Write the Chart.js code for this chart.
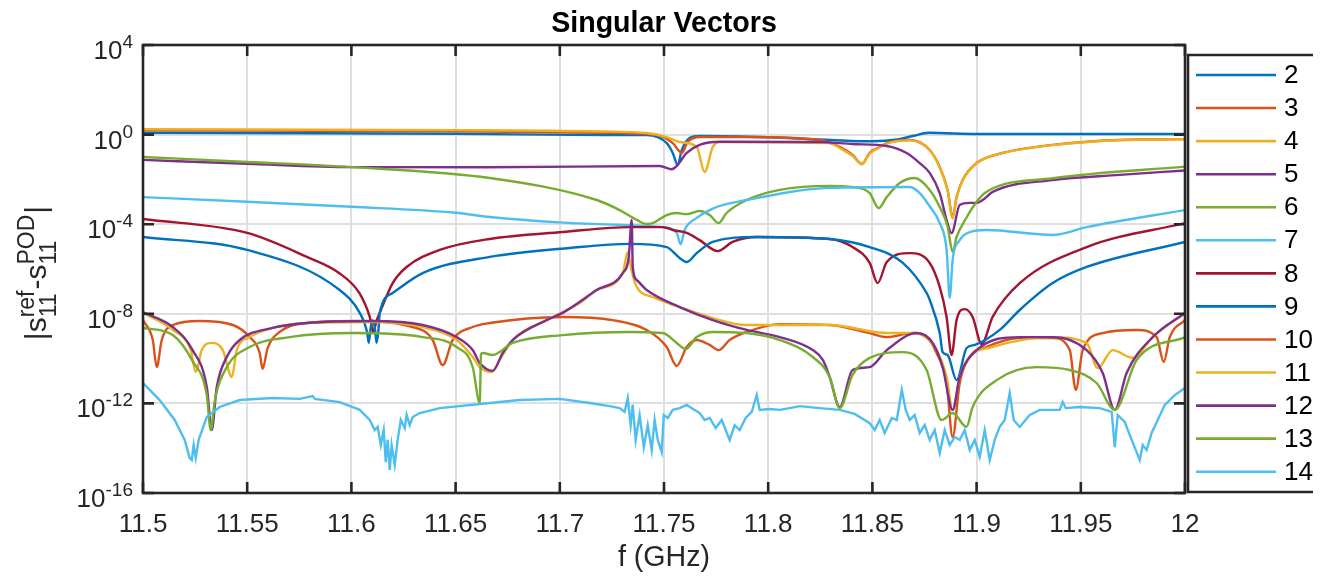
<!DOCTYPE html>
<html lang="en">
  <head>
    <meta charset="UTF-8" />
    <title>Singular Vectors</title>
    <style>
      body {
        margin: 0;
        background: #fff;
      }
      #wrap {
        position: relative;
        width: 1330px;
        height: 582px;
      }
    </style>
  </head>
  <body>
    <div id="wrap">
      <canvas id="svChart" width="1330" height="582"></canvas>
    </div>

    <script src="https://cdn.jsdelivr.net/npm/chart.js"></script>
    <script>
      // each series: [f in GHz, log10 |s11ref - s11POD|]
      const sv2 = [[11.5,0.08],[11.65,0.04],[11.72,-0.02],[11.7417,-0.02],[11.7513,-0.38],[11.7542,-0.82],[11.7566,-1.36],[11.7585,-0.69],[11.7623,-0.15],[11.7671,-0.06],[11.8,-0.12],[11.83,-0.24],[11.85,-0.3],[11.862,-0.22],[11.87,-0.05],[11.877,0.08],[11.885,0.06],[11.9,0.03],[12,0.03]];
      const sv3 = [[11.5,0.19],[11.65,0.15],[11.72,0.08],[11.7465,-0.02],[11.7542,-0.38],[11.7585,-0.82],[11.7614,-0.33],[11.7671,-0.11],[11.7897,-0.11],[11.8247,-0.24],[11.8343,-0.55],[11.8405,-0.91],[11.8449,-1.31],[11.8487,-0.82],[11.8535,-0.55],[11.8569,-0.38],[11.8679,-0.24],[11.8775,-0.69],[11.8823,-1.45],[11.8861,-2.47],[11.8885,-3.68],[11.8904,-2.79],[11.8933,-2.03],[11.9,-1.27],[11.9125,-0.82],[11.9365,-0.46],[11.968,-0.24],[12,-0.2]];
      const sv4 = [[11.5,0.24],[11.65,0.2],[11.72,0.14],[11.7417,0.07],[11.7513,-0.11],[11.7575,-0.33],[11.7657,-0.55],[11.7695,-1.67],[11.7734,-0.55],[11.7767,-0.33],[11.8295,-0.38],[11.8343,-0.6],[11.8405,-0.95],[11.8449,-1.33],[11.8487,-0.85],[11.8535,-0.57],[11.8569,-0.4],[11.8679,-0.26],[11.8775,-0.7],[11.8823,-1.47],[11.8861,-2.5],[11.8885,-3.75],[11.8904,-2.8],[11.8933,-2.05],[11.9,-1.28],[11.9125,-0.83],[11.9365,-0.47],[11.968,-0.25],[12,-0.21]];
      const sv5 = [[11.5,-1.13],[11.55,-1.3],[11.6,-1.45],[11.666,-1.46],[11.748,-1.4],[11.7537,-1.55],[11.7561,-1.4],[11.7609,-0.82],[11.7671,-0.46],[11.7767,-0.32],[11.8247,-0.33],[11.8405,-0.42],[11.8569,-0.51],[11.8664,-0.82],[11.8727,-1.27],[11.8775,-1.71],[11.8823,-2.61],[11.8856,-3.81],[11.888,-4.4],[11.8919,-3.14],[11.8967,-3.05],[11.9,-3.05],[11.9029,-2.92],[11.9077,-2.56],[11.9365,-2.03],[11.9687,-1.8],[12,-1.6]];
      const sv6 = [[11.5,-1.0],[11.55,-1.22],[11.6,-1.45],[11.6664,-1.94],[11.7177,-2.92],[11.7287,-3.37],[11.7369,-3.81],[11.7417,-3.99],[11.7446,-3.95],[11.7513,-3.59],[11.7561,-3.5],[11.7609,-3.55],[11.7671,-3.41],[11.7719,-3.59],[11.7762,-3.95],[11.78,-3.5],[11.7897,-2.92],[11.8055,-2.47],[11.8295,-2.29],[11.8405,-2.34],[11.8487,-2.61],[11.853,-3.28],[11.8569,-2.79],[11.8631,-2.16],[11.8703,-1.94],[11.8775,-2.47],[11.8823,-3.23],[11.8861,-4.1],[11.8885,-5.24],[11.8904,-4.57],[11.8952,-3.7],[11.9,-3.0],[11.9048,-2.55],[11.9365,-1.95],[12,-1.43]];
      const sv7 = [[11.5,-2.79],[11.55,-3.0],[11.6,-3.22],[11.65,-3.49],[11.6664,-3.68],[11.7,-3.92],[11.7254,-4.02],[11.7494,-4.13],[11.7561,-4.39],[11.758,-4.9],[11.7599,-4.26],[11.7657,-3.72],[11.7734,-3.3],[11.7897,-2.92],[11.8295,-2.38],[11.8679,-2.34],[11.8727,-2.61],[11.8775,-3.2],[11.8823,-3.95],[11.8856,-5.15],[11.8871,-7.29],[11.8885,-5.6],[11.8919,-4.71],[11.8967,-4.35],[11.9048,-4.26],[11.9365,-4.48],[11.9528,-4.13],[12,-3.37]];
      const sv8 = [[11.5,-3.77],[11.55,-4.39],[11.5786,-5.46],[11.5944,-6.2],[11.604,-7.1],[11.6088,-8.14],[11.6105,-8.81],[11.6121,-8.3],[11.6136,-7.96],[11.6198,-6.63],[11.6265,-5.91],[11.6424,-5.15],[11.6664,-4.66],[11.7014,-4.35],[11.7336,-4.13],[11.7494,-4.13],[11.7542,-4.26],[11.7609,-4.39],[11.7671,-4.71],[11.7758,-5.2],[11.7829,-4.79],[11.7945,-4.57],[11.8295,-4.66],[11.8405,-5.02],[11.8487,-5.73],[11.8525,-6.63],[11.8569,-5.69],[11.8679,-5.29],[11.8775,-5.73],[11.8823,-6.8],[11.8856,-8.14],[11.888,-9.84],[11.8904,-8.28],[11.8943,-7.79],[11.8981,-8.14],[11.9024,-9.35],[11.9077,-8.14],[11.9207,-6.63],[11.9528,-5.02],[12,-3.95]];
      const sv9 = [[11.5,-4.57],[11.55,-5.15],[11.5944,-6.94],[11.604,-7.96],[11.6075,-8.8],[11.6083,-9.3],[11.6093,-8.6],[11.6102,-8.3],[11.6112,-8.6],[11.6121,-9.3],[11.613,-8.7],[11.6136,-7.96],[11.6198,-7.07],[11.6342,-6.18],[11.6664,-5.46],[11.7048,-5.06],[11.7336,-4.88],[11.7513,-5.02],[11.7575,-5.51],[11.7609,-5.69],[11.7657,-5.29],[11.7734,-4.79],[11.7945,-4.57],[11.8295,-4.66],[11.8487,-5.02],[11.8646,-5.73],[11.876,-7.07],[11.8775,-7.38],[11.8823,-8.86],[11.8837,-9.71],[11.8861,-9.84],[11.8904,-10.96],[11.8952,-9.53],[11.8991,-9.39],[11.9111,-8.72],[11.9207,-7.83],[11.9365,-6.63],[11.9528,-5.91],[12,-4.79]];
      const sv10 = [[11.5,-8.28],[11.5047,-9.17],[11.5066,-10.38],[11.509,-9.17],[11.5143,-8.5],[11.5272,-8.32],[11.5431,-8.5],[11.5512,-9.04],[11.556,-9.75],[11.5574,-10.46],[11.5598,-9.53],[11.5656,-8.81],[11.5786,-8.41],[11.6007,-8.32],[11.6294,-8.59],[11.639,-9.17],[11.6438,-10.29],[11.6486,-9.17],[11.6582,-8.59],[11.6664,-8.41],[11.7014,-8.14],[11.7254,-8.28],[11.7417,-8.72],[11.7513,-9.48],[11.7561,-10.33],[11.7609,-9.48],[11.7657,-9.17],[11.7719,-9.39],[11.7762,-9.62],[11.7815,-9.17],[11.7897,-8.81],[11.8055,-8.46],[11.8295,-8.5],[11.8487,-8.86],[11.8569,-9.04],[11.8694,-8.86],[11.876,-9.04],[11.8808,-9.75],[11.8856,-11.09],[11.8885,-13.5],[11.8919,-11.09],[11.8967,-9.93],[11.9048,-9.48],[11.9207,-9.08],[11.9365,-9.08],[11.9447,-9.62],[11.9476,-11.4],[11.9509,-9.62],[11.9605,-8.86],[11.9768,-8.72],[11.9864,-9.04],[11.9898,-10.15],[11.9927,-9.04],[12,-8.28]];
      const sv11 = [[11.5,-7.96],[11.5143,-8.72],[11.5229,-9.62],[11.5253,-10.6],[11.5282,-9.62],[11.533,-9.3],[11.5383,-9.62],[11.5426,-10.82],[11.545,-9.62],[11.5512,-9.04],[11.5622,-8.63],[11.5786,-8.41],[11.6103,-8.37],[11.6342,-8.59],[11.6505,-9.17],[11.6582,-9.93],[11.6616,-10.38],[11.6673,-10.6],[11.6712,-10.06],[11.6774,-9.17],[11.6937,-8.28],[11.7095,-7.52],[11.7177,-6.94],[11.7302,-6.18],[11.7326,-5.24],[11.7345,-6.1],[11.7369,-6.8],[11.7446,-7.25],[11.7575,-7.7],[11.7734,-8.19],[11.7897,-8.5],[11.8295,-8.5],[11.8569,-8.86],[11.8694,-8.86],[11.8808,-9.62],[11.8856,-10.82],[11.8885,-12.3],[11.8919,-10.82],[11.8967,-9.93],[11.9077,-9.48],[11.9365,-9.04],[11.9528,-9.3],[11.9581,-10.42],[11.9653,-9.62],[11.9749,-9.97],[11.9845,-9.04],[12,-7.96]];
      const sv12 = [[11.5,-7.92],[11.5143,-8.59],[11.5238,-9.62],[11.5306,-11.27],[11.533,-13.19],[11.5354,-11.27],[11.5402,-9.93],[11.5464,-9.17],[11.5622,-8.63],[11.5786,-8.41],[11.6103,-8.32],[11.6342,-8.5],[11.6505,-9.04],[11.6582,-9.62],[11.6616,-10.2],[11.6678,-10.55],[11.6726,-9.75],[11.6774,-9.17],[11.6937,-8.28],[11.7014,-7.96],[11.7177,-6.94],[11.7302,-6.18],[11.7331,-5.46],[11.7345,-3.81],[11.735,-5.91],[11.7369,-6.49],[11.7417,-6.94],[11.7575,-7.7],[11.7734,-8.28],[11.7897,-8.72],[11.8055,-9.04],[11.8214,-9.62],[11.8262,-10.06],[11.8295,-10.82],[11.8343,-12.16],[11.8405,-10.51],[11.8487,-10.38],[11.8569,-9.62],[11.8713,-8.86],[11.8789,-9.3],[11.8837,-10.38],[11.8885,-12.29],[11.8919,-10.82],[11.9,-9.62],[11.9207,-9.04],[11.9365,-9.04],[11.9528,-9.62],[11.9605,-10.64],[11.9663,-12.29],[11.972,-10.64],[11.9845,-9.04],[12,-7.96]];
      const sv13 = [[11.5,-8.63],[11.5143,-8.95],[11.5238,-10.11],[11.5306,-11.63],[11.5325,-13.19],[11.5345,-11.85],[11.5402,-10.38],[11.5512,-9.48],[11.5704,-9.04],[11.6007,-8.86],[11.6342,-9.04],[11.6505,-9.48],[11.6582,-10.38],[11.6616,-11.98],[11.6622,-9.8],[11.663,-9.75],[11.6678,-9.84],[11.6774,-9.3],[11.7014,-8.95],[11.7336,-8.81],[11.7494,-8.86],[11.7561,-9.3],[11.7604,-9.57],[11.7657,-9.04],[11.7734,-8.81],[11.7897,-8.86],[11.8055,-9.17],[11.8214,-9.93],[11.8295,-10.82],[11.8343,-12.21],[11.8405,-10.73],[11.8487,-9.97],[11.8646,-9.71],[11.876,-10.51],[11.8832,-12.74],[11.8885,-12.43],[11.8952,-13.05],[11.8981,-12.16],[11.9096,-10.96],[11.9289,-10.38],[11.9447,-10.51],[11.9576,-11.09],[11.9663,-12.29],[11.9768,-10.06],[12,-9.04]];
      const sv14 = [[11.5,-11.09],[11.508,-11.85],[11.5152,-12.74],[11.52,-13.63],[11.5224,-14.44],[11.5234,-14.53],[11.5243,-13.86],[11.5253,-14.44],[11.5267,-13.63],[11.5306,-12.61],[11.5368,-12.16],[11.5464,-11.85],[11.5622,-11.76],[11.5752,-11.8],[11.5814,-11.67],[11.5825,-11.8],[11.5944,-11.94],[11.604,-12.29],[11.6088,-12.74],[11.6112,-13.19],[11.6126,-13.05],[11.6141,-13.86],[11.6155,-13.19],[11.6165,-14.62],[11.6174,-13.63],[11.6184,-14.97],[11.6193,-13.86],[11.6208,-14.75],[11.6222,-13.63],[11.6237,-12.74],[11.6256,-13.1],[11.6265,-12.52],[11.628,-12.97],[11.6294,-12.61],[11.6328,-12.43],[11.6424,-12.21],[11.6664,-11.98],[11.6808,-11.85],[11.7,-11.8],[11.7144,-11.98],[11.7239,-12.12],[11.7287,-12.21],[11.7311,-12.38],[11.7326,-11.76],[11.734,-12.97],[11.735,-12.07],[11.7364,-13.63],[11.7383,-12.52],[11.7403,-13.95],[11.7422,-12.97],[11.7441,-14.08],[11.7455,-12.74],[11.747,-13.63],[11.7489,-14.17],[11.7499,-12.52],[11.7518,-12.65],[11.7542,-12.29],[11.7575,-12.21],[11.7609,-12.07],[11.7647,-12.29],[11.7671,-12.43],[11.7695,-12.74],[11.7719,-12.65],[11.7748,-13.1],[11.7777,-12.74],[11.7815,-13.63],[11.7839,-12.97],[11.7863,-13.19],[11.7892,-12.65],[11.7921,-12.38],[11.7945,-11.63],[11.7959,-12.29],[11.8007,-12.25],[11.8055,-12.29],[11.8103,-12.21],[11.8151,-12.12],[11.8247,-12.21],[11.8343,-12.29],[11.8415,-12.47],[11.8487,-12.88],[11.8511,-13.19],[11.8535,-12.74],[11.8559,-13.32],[11.8593,-12.65],[11.8617,-12.74],[11.8641,-11.4],[11.866,-12.29],[11.8679,-12.74],[11.8703,-12.52],[11.8727,-13.32],[11.8751,-12.97],[11.8775,-13.63],[11.8799,-13.19],[11.8823,-14.22],[11.8847,-13.19],[11.8871,-13.86],[11.8895,-13.5],[11.8919,-13.63],[11.8943,-13.19],[11.8967,-14.08],[11.8991,-13.63],[11.9015,-14.39],[11.9039,-13.19],[11.9063,-14.53],[11.9087,-13.63],[11.9111,-13.05],[11.9135,-12.74],[11.9159,-11.54],[11.9178,-12.74],[11.9207,-13.05],[11.9255,-12.52],[11.9303,-12.29],[11.9399,-12.29],[11.9413,-11.94],[11.9428,-12.21],[11.9495,-12.16],[11.9591,-12.21],[11.9648,-12.38],[11.9663,-13.95],[11.9677,-12.52],[11.9711,-12.83],[11.9744,-13.63],[11.9773,-14.3],[11.9783,-14.53],[11.9797,-13.86],[11.9816,-14.08],[11.984,-13.32],[11.9869,-12.74],[11.9903,-12.07],[11.9951,-11.63],[12,-11.31]];

      const seriesData = [sv2, sv3, sv4, sv5, sv6, sv7, sv8, sv9, sv10, sv11, sv12, sv13, sv14];
      const seriesNames = ["2", "3", "4", "5", "6", "7", "8", "9", "10", "11", "12", "13", "14"];
      const seriesColors = ["#0072BD", "#D95319", "#EDB120", "#7E2F8E", "#77AC30", "#4DBEEE", "#A2142F",
                            "#0072BD", "#D95319", "#EDB120", "#7E2F8E", "#77AC30", "#4DBEEE"];

      const xTicks = [11.5, 11.55, 11.6, 11.65, 11.7, 11.75, 11.8, 11.85, 11.9, 11.95, 12];
      const xTickLabels = ["11.5", "11.55", "11.6", "11.65", "11.7", "11.75", "11.8", "11.85", "11.9", "11.95", "12"];
      const yTicks = [1e-16, 1e-12, 1e-8, 1e-4, 1e0, 1e4];
      const yTickExp = ["-16", "-12", "-8", "-4", "0", "4"];

      const FONT = "'Liberation Sans', Arial, Helvetica, sans-serif";
      const AXIS_COLOR = "#262626";

      const datasets = seriesData.map((s, i) => ({
        label: seriesNames[i],
        data: s.map(([f, e]) => ({ x: f, y: Math.pow(10, e) })),
        borderColor: seriesColors[i],
        backgroundColor: seriesColors[i],
        borderWidth: 2.4,
        pointRadius: 0,
        fill: false,
        tension: 0,
        cubicInterpolationMode: i === 12 ? "default" : "monotone",
        order: -i,
      }));

      // axes box, ticks, labels, title and legend (MATLAB look)
      const decorPlugin = {
        id: "decor",
        afterDatasetsDraw(chart) {
          const ctx = chart.ctx;
          const a = chart.chartArea;
          const xs = chart.scales.x;
          const ys = chart.scales.y;
          ctx.save();

          // box
          ctx.strokeStyle = AXIS_COLOR;
          ctx.lineWidth = 2.6;
          ctx.strokeRect(a.left, a.top, a.right - a.left, a.bottom - a.top);

          // tick marks (inside, all sides)
          const tl = 11;
          ctx.beginPath();
          xTicks.forEach((v) => {
            const px = xs.getPixelForValue(v);
            ctx.moveTo(px, a.bottom);
            ctx.lineTo(px, a.bottom - tl);
            ctx.moveTo(px, a.top);
            ctx.lineTo(px, a.top + tl);
          });
          yTicks.forEach((v) => {
            const py = ys.getPixelForValue(v);
            ctx.moveTo(a.left, py);
            ctx.lineTo(a.left + tl, py);
            ctx.moveTo(a.right, py);
            ctx.lineTo(a.right - tl, py);
          });
          ctx.stroke();

          // x tick labels
          ctx.fillStyle = AXIS_COLOR;
          ctx.font = "26px " + FONT;
          ctx.textAlign = "center";
          ctx.textBaseline = "alphabetic";
          xTicks.forEach((v, i) => {
            ctx.fillText(xTickLabels[i], xs.getPixelForValue(v), a.bottom + 39);
          });

          // y tick labels 10^n
          ctx.textAlign = "left";
          yTicks.forEach((v, i) => {
            const py = ys.getPixelForValue(v);
            ctx.font = "19px " + FONT;
            const ew = ctx.measureText(yTickExp[i]).width;
            ctx.font = "26px " + FONT;
            const bw = ctx.measureText("10").width;
            const right = a.left - 10;
            ctx.fillText("10", right - ew - bw, py + 14);
            ctx.font = "19px " + FONT;
            ctx.fillText(yTickExp[i], right - ew, py + 3);
          });

          // title
          ctx.fillStyle = "#000";
          ctx.font = "bold 28.6px " + FONT;
          ctx.textAlign = "center";
          ctx.fillText("Singular Vectors", (a.left + a.right) / 2, 32);

          // x label
          ctx.fillStyle = AXIS_COLOR;
          ctx.font = "28.6px " + FONT;
          ctx.fillText("f (GHz)", (a.left + a.right) / 2, 566);

          // y label |s_11^ref - s_11^POD|
          const big = "30px " + FONT;
          const small = "23px " + FONT;
          const parts = [
            { t: "|s" },
            { sub: "11", sup: "ref" },
            { t: "-s" },
            { sub: "11", sup: "POD" },
            { t: "|" },
          ];
          let total = 0;
          parts.forEach((p) => {
            if (p.t) {
              ctx.font = big;
              p.w = ctx.measureText(p.t).width;
            } else {
              ctx.font = small;
              p.w = Math.max(ctx.measureText(p.sub).width, ctx.measureText(p.sup).width) + 1;
            }
            total += p.w;
          });
          ctx.save();
          ctx.translate(46, (a.top + a.bottom) / 2 + 4 + total / 2);
          ctx.rotate(-Math.PI / 2);
          ctx.textAlign = "left";
          let u = 0;
          parts.forEach((p) => {
            if (p.t) {
              ctx.font = big;
              ctx.fillText(p.t, u, 0);
            } else {
              ctx.font = small;
              ctx.fillText(p.sub, u, 10);
              ctx.fillText(p.sup, u, -12);
            }
            u += p.w;
          });
          ctx.restore();

          // legend
          const lgLeft = 1188, lgTop = 55, lgRight = 1313, lgBottom = 492;
          ctx.strokeStyle = AXIS_COLOR;
          ctx.lineWidth = 2.6;
          ctx.beginPath();
          ctx.moveTo(lgRight, lgTop);
          ctx.lineTo(lgLeft, lgTop);
          ctx.lineTo(lgLeft, lgBottom);
          ctx.lineTo(lgRight, lgBottom);
          ctx.stroke();
          ctx.font = "26px " + FONT;
          ctx.textBaseline = "middle";
          ctx.textAlign = "left";
          chart.data.datasets.forEach((ds, i) => {
            const y = 75 + i * 33.06;
            ctx.strokeStyle = ds.borderColor;
            ctx.lineWidth = 2.6;
            ctx.beginPath();
            ctx.moveTo(1196, y);
            ctx.lineTo(1276, y);
            ctx.stroke();
            ctx.fillStyle = "#000";
            ctx.fillText(ds.label, 1284, y + 1);
          });

          ctx.restore();
        },
      };

      const svChart = new Chart(document.getElementById("svChart"), {
        type: "line",
        data: { datasets: datasets },
        options: {
          responsive: false,
          devicePixelRatio: 1,
          animation: false,
          events: [],
          layout: { padding: { left: 143, top: 45, right: 145, bottom: 89 } },
          plugins: {
            legend: { display: false },
            title: { display: false },
            tooltip: { enabled: false },
          },
          scales: {
            x: {
              type: "linear",
              min: 11.5,
              max: 12,
              afterBuildTicks: (scale) => {
                scale.ticks = xTicks.map((v) => ({ value: v }));
              },
              ticks: { display: false },
              grid: { color: "#dfdfdf", lineWidth: 2, drawTicks: false },
              border: { display: false },
            },
            y: {
              type: "logarithmic",
              min: 1e-16,
              max: 1e4,
              afterBuildTicks: (scale) => {
                scale.ticks = yTicks.map((v) => ({ value: v }));
              },
              ticks: { display: false },
              grid: { color: "#dfdfdf", lineWidth: 2, drawTicks: false },
              border: { display: false },
            },
          },
        },
        plugins: [decorPlugin],
      });
    </script>
  </body>
</html>
